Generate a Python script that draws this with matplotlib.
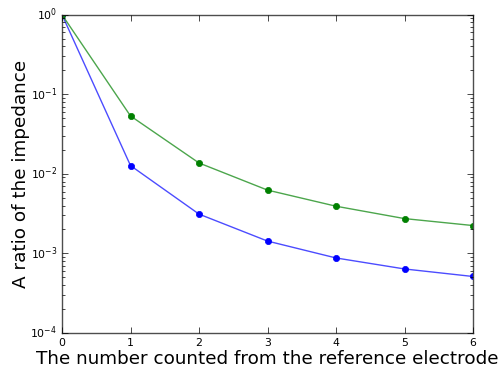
import matplotlib
matplotlib.use("Agg")
import matplotlib.pyplot as plt

plt.style.use('classic')

x = [0, 1, 2, 3, 4, 5, 6]
blue_vals = [1.0, 0.0127, 0.00312, 0.00143, 0.000877, 0.000638, 0.000513]
green_vals = [1.0, 0.0534, 0.0137, 0.00625, 0.00392, 0.00274, 0.00224]
xlabel = "The number counted from the reference electrode"
ylabel = "A ratio of the impedance"

fig = plt.figure(figsize=(5.01, 3.74), dpi=100, facecolor='white')
ax = fig.add_axes([62/501, 1 - 333/374, (473-62)/501, (333-14.7)/374])

ax.plot(x, blue_vals, color='b', alpha=0.7, lw=1.0)
ax.plot(x, green_vals, color='g', alpha=0.7, lw=1.0)
ax.plot(x, blue_vals, 'o', color='b', mec='b', ms=4.5)
ax.plot(x, green_vals, 'o', color='g', mec='g', ms=4.5)

ax.set_yscale('log')
ax.set_ylim(1e-4, 1)
ax.set_xlim(0, 6)
ax.tick_params(labelsize=7.8, pad=3.5)
ax.set_xlabel(xlabel, fontsize=13.2)
ax.set_ylabel(ylabel, fontsize=13.2)
ax.xaxis.set_label_coords(0.5, (333 - 350) / 318.3)
ax.yaxis.set_label_coords((30 - 62) / 411, 0.5)
for s in ax.spines.values():
    s.set_color('0.3')

fig.savefig('out.png', dpi=100, facecolor='white')
